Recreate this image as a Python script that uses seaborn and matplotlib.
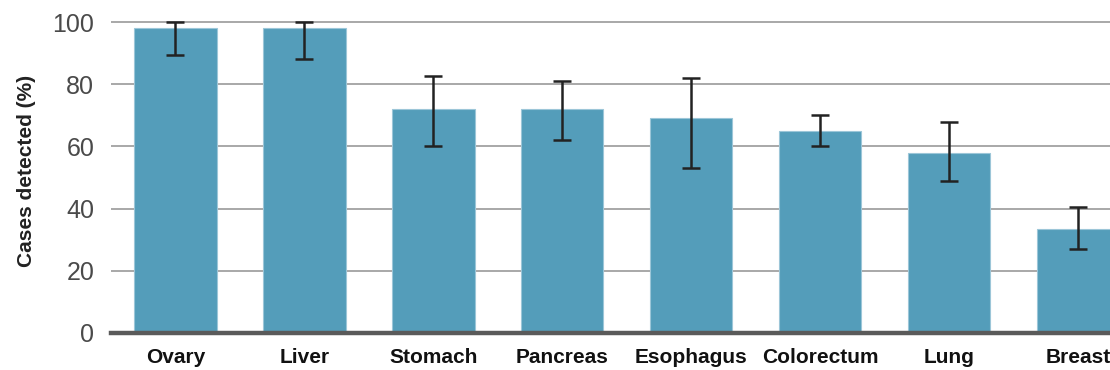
import numpy as np
import pandas as pd
import matplotlib
matplotlib.use('Agg')
import matplotlib.pyplot as plt
import seaborn as sns

# values
cancers = ['Ovary', 'Liver', 'Stomach', 'Pancreas', 'Esophagus', 'Colorectum', 'Lung', 'Breast']
detected = [98, 98, 72, 72, 69, 65, 58, 33.5]
err_low = [89.5, 88, 60, 62, 53, 60, 49, 27]
err_high = [100, 100, 82.5, 81, 82, 70, 68, 40.5]
yticks = [0, 20, 40, 60, 80, 100]

bar_color = '#549dba'

sns.set_style('white')
plt.rcParams['font.family'] = ['Liberation Sans Narrow', 'Liberation Sans', 'DejaVu Sans']

df = pd.DataFrame({'cancer': cancers, 'detected': detected})

fig = plt.figure(figsize=(11.1, 3.7), dpi=100)
ax = fig.add_axes([111 / 1110, 37 / 370, 1 - 111 / 1110, 323.4 / 370])

sns.barplot(data=df, x='cancer', y='detected', color=bar_color, saturation=1,
            width=0.64, edgecolor='#9cc6d8', linewidth=0.8, ax=ax, zorder=2)

vals = np.array(detected)
yerr = np.vstack([vals - np.array(err_low), np.array(err_high) - vals])
ax.errorbar(np.arange(len(cancers)), vals, yerr=yerr, fmt='none',
            ecolor='#222222', elinewidth=1.8, capsize=6.5, capthick=1.8,
            zorder=3, clip_on=False)

ax.set_xlim(-0.5, 7.25)
ax.set_ylim(0, 104)
ax.set_yticks(yticks)
ax.yaxis.grid(True, color='#999999', linewidth=1.2, zorder=0)
ax.set_axisbelow(True)

for side in ['left', 'right', 'top']:
    ax.spines[side].set_visible(False)
ax.spines['bottom'].set_color('#5a5a5a')
ax.spines['bottom'].set_linewidth(3.2)
ax.spines['bottom'].set_zorder(4)

ax.tick_params(axis='y', length=0, pad=12, labelsize=18, labelcolor='#4a4a4a')
ax.tick_params(axis='x', length=0, pad=11)
for lab in ax.get_xticklabels():
    lab.set_fontweight('bold')
    lab.set_fontsize(15)
    lab.set_color('#111111')

ax.set_xlabel('')
ax.set_ylabel('Cases detected (%)', fontsize=15, fontweight='bold', color='#222222', labelpad=12)

fig.savefig('out.png', dpi=100)
